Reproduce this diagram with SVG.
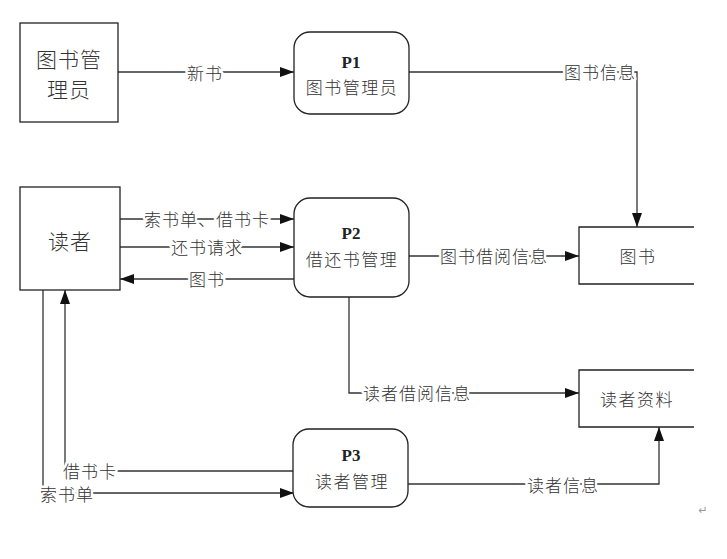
<svg xmlns="http://www.w3.org/2000/svg" width="727" height="559" viewBox="0 0 727 559">
<style>
.box{fill:#fff;stroke:#222;stroke-width:1.3}
.ds{fill:none;stroke:#222;stroke-width:1.3}
.ln{fill:none;stroke:#333;stroke-width:1.3}
.t{font-family:"Noto Sans CJK SC","Liberation Serif",serif;font-weight:300;fill:#333;text-anchor:middle;dominant-baseline:central}
.big{font-size:21px;letter-spacing:1px}
.mid{font-size:17px;letter-spacing:1.5px}
.lbl{font-size:17px;letter-spacing:1px;stroke:#fff;stroke-width:5px;paint-order:stroke;stroke-linejoin:round}
.p{font-family:"Liberation Serif",serif;font-weight:bold;font-size:17px;fill:#222;text-anchor:middle;dominant-baseline:central}
</style>
<defs>
<marker id="ah" markerUnits="userSpaceOnUse" markerWidth="14" markerHeight="10" refX="14" refY="5" orient="auto">
<path d="M0,0 L14,5 L0,10 z" fill="#111"/>
</marker>
</defs>
<rect width="727" height="559" fill="#fff"/>
<g id="connectors">
<path class="ln" d="M118,72 H294" marker-end="url(#ah)"/>
<path class="ln" d="M409,72 H637 V227" marker-end="url(#ah)"/>
<path class="ln" d="M120,219 H294" marker-end="url(#ah)"/>
<path class="ln" d="M120,247 H294" marker-end="url(#ah)"/>
<path class="ln" d="M294,279 H120" marker-end="url(#ah)"/>
<path class="ln" d="M409,256 H579" marker-end="url(#ah)"/>
<path class="ln" d="M349,297 V393 H579" marker-end="url(#ah)"/>
<path class="ln" d="M408,484 H659 V427" marker-end="url(#ah)"/>
<path class="ln" d="M294,471 H65 V290" marker-end="url(#ah)"/>
<path class="ln" d="M43,290 V493 H294" marker-end="url(#ah)"/>
<text class="t lbl" x="205" y="72">新书</text>
<text class="t lbl" x="600" y="71">图书信息</text>
<text class="t lbl" x="207" y="218">索书单、借书卡</text>
<text class="t lbl" x="207" y="246">还书请求</text>
<text class="t lbl" x="207" y="278">图书</text>
<text class="t lbl" x="494" y="255">图书借阅信息</text>
<text class="t lbl" x="417" y="392">读者借阅信息</text>
<text class="t lbl" x="563" y="484">读者信息</text>
<text class="t lbl" x="90" y="470">借书卡</text>
<text class="t lbl" x="67" y="493">索书单</text>
</g>
<g id="librarian">
<rect class="box" x="20" y="23" width="98" height="99"/>
<text class="t big" x="69" y="58">图书管</text>
<text class="t big" x="69" y="88">理员</text>
</g>
<g id="p1">
<rect class="box" x="294" y="32" width="115" height="82" rx="16"/>
<text class="p" x="351" y="62">P1</text>
<text class="t mid" x="352" y="86">图书管理员</text>
</g>
<g id="reader">
<rect class="box" x="20" y="187" width="100" height="103"/>
<text class="t big" x="70" y="240">读者</text>
</g>
<g id="p2">
<rect class="box" x="294" y="198" width="115" height="99" rx="16"/>
<text class="p" x="351" y="233">P2</text>
<text class="t mid" x="352" y="258">借还书管理</text>
</g>
<g id="books">
<path class="ds" d="M694,227 H579 V284 H694"/>
<text class="t mid" x="638" y="255">图书</text>
</g>
<g id="readerdata">
<path class="ds" d="M694,370 H579 V427 H694"/>
<text class="t mid" x="637" y="398">读者资料</text>
</g>
<g id="p3">
<rect class="box" x="293" y="429" width="115" height="78" rx="16"/>
<text class="p" x="351" y="455">P3</text>
<text class="t mid" x="352" y="480">读者管理</text>
</g>
<text x="703" y="514" font-family="DejaVu Sans,sans-serif" font-size="11" fill="#999" text-anchor="middle">↵</text>
</svg>
